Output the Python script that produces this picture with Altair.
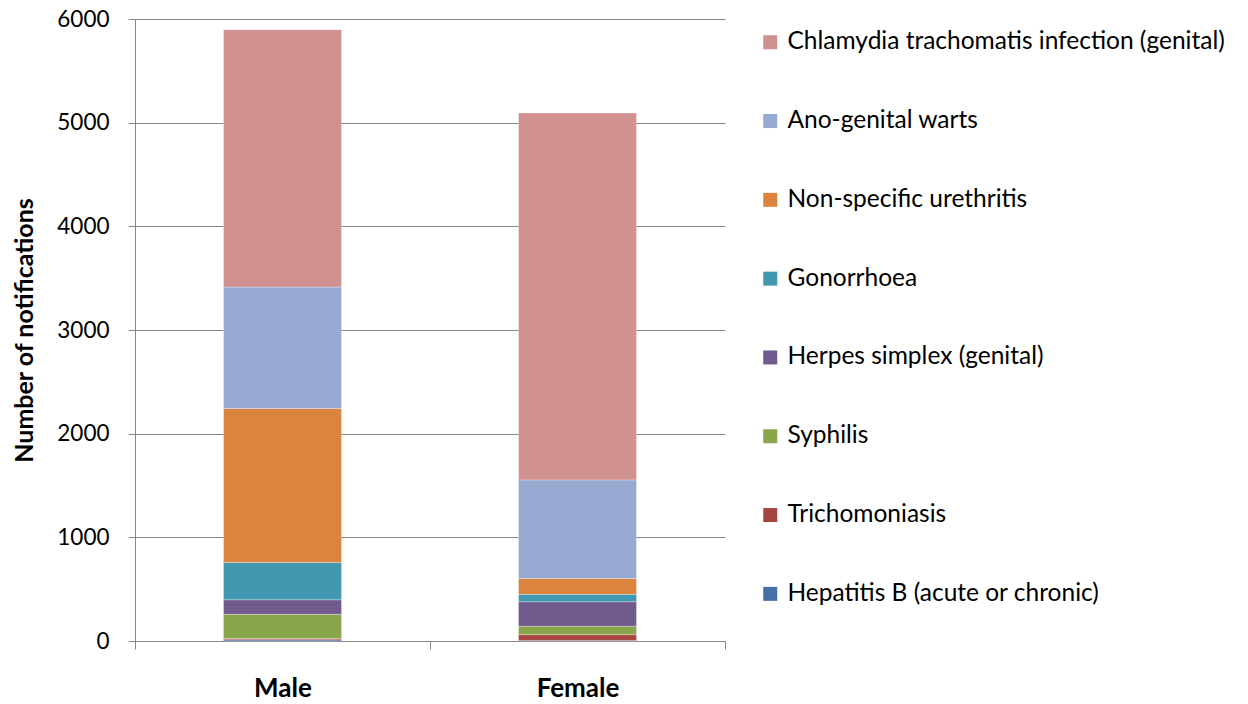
import altair as alt
import pandas as pd

sexes = ["Male", "Female"]
# stack order bottom -> top
diseases = [
    "Hepatitis B (acute or chronic)",
    "Trichomoniasis",
    "Syphilis",
    "Herpes simplex (genital)",
    "Gonorrhoea",
    "Non-specific urethritis",
    "Ano-genital warts",
    "Chlamydia trachomatis infection (genital)",
]
colors = ["#4470A6", "#A7443F", "#8AA64D", "#715A8E", "#4298B1", "#DC833E", "#95A9D1", "#D19191"]
male_values = [12, 12, 233, 141, 360, 1484, 1173, 2482]
female_values = [6, 55, 81, 237, 71, 154, 950, 3540]
y_ticks = [0, 1000, 2000, 3000, 4000, 5000, 6000]

rows = []
for i, d in enumerate(diseases):
    rows.append({"sex": "Male", "disease": d, "n": male_values[i], "ord": i})
    rows.append({"sex": "Female", "disease": d, "n": female_values[i], "ord": i})
df = pd.DataFrame(rows)

FONT = "Lato"
GREY = "#868686"

chart = alt.Chart(df).mark_bar(
    width=alt.RelativeBandSize(0.4), stroke="white", strokeWidth=0.6, strokeOpacity=0.5
).encode(
    x=alt.X("sex:N", sort=sexes, title=None,
            scale=alt.Scale(paddingInner=0, paddingOuter=0),
            axis=alt.Axis(tickBand="extent", labelAngle=0, labelFont=FONT, labelFontSize=26,
                          labelFontWeight="bold", labelColor="black", labelPadding=26,
                          domainColor=GREY, tickColor=GREY, tickSize=8, grid=False)),
    y=alt.Y("n:Q", stack="zero", title="Number of notifications",
            scale=alt.Scale(domain=[0, 6000], nice=False),
            axis=alt.Axis(values=y_ticks, format="d", labelFont=FONT,
                          labelFontSize=22.5, labelColor="black", labelPadding=19,
                          domainColor=GREY, tickColor=GREY, tickSize=7,
                          gridColor=GREY, gridWidth=1,
                          titleFont=FONT, titleFontSize=25, titleFontWeight="bold",
                          titleColor="black", titlePadding=19)),
    color=alt.Color("disease:N",
                    scale=alt.Scale(domain=diseases[::-1], range=colors[::-1]),
                    legend=alt.Legend(title=None, orient="none", legendX=623, legendY=11,
                                      symbolType="square", symbolSize=196, symbolStrokeWidth=0,
                                      labelFont=FONT, labelFontSize=24.5, labelColor="black",
                                      labelOffset=5, rowPadding=53.8, labelLimit=600)),
    order=alt.Order("ord:Q", sort="ascending"),
).properties(
    width=590, height=622,
    autosize=alt.AutoSizeParams(type="none"),
    padding={"left": 127, "top": 11, "right": 515, "bottom": 60},
).configure_view(stroke=None)

chart.save("out.html", embed_options={"renderer": "svg", "actions": False})
